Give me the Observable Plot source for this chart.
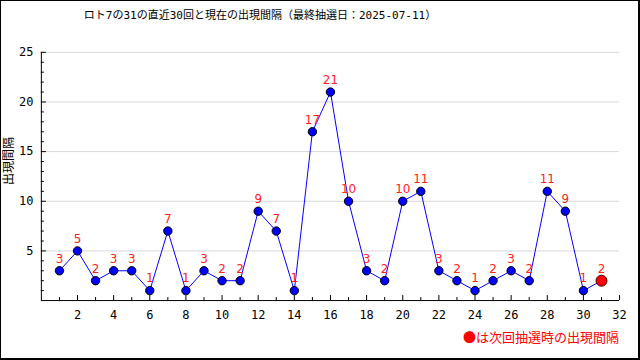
<!DOCTYPE html>
<html><head><meta charset="utf-8">
<script src="https://cdn.jsdelivr.net/npm/d3@7"></script>
<script src="https://cdn.jsdelivr.net/npm/@observablehq/plot@0.6"></script>
<style>
body{margin:0;background:#fff;}
#wrap{position:relative;width:640px;height:360px;box-sizing:border-box;border:1px solid #000;border-right-width:2px;border-bottom-width:2px;overflow:hidden;font-family:"DejaVu Sans","Noto Sans CJK JP",sans-serif;}
#chart{position:absolute;left:-1px;top:-1px;}
#title{position:absolute;top:5px;left:0;width:518px;text-align:center;font-size:11px;color:#000;white-space:nowrap;font-family:"DejaVu Sans Mono","Noto Sans CJK JP",monospace;}
#ylabel{position:absolute;left:-23px;top:153px;width:60px;transform:rotate(-90deg);font-size:12px;line-height:14px;text-align:center;white-space:nowrap;font-family:"Noto Sans CJK JP",sans-serif;}
#legend{position:absolute;right:19px;top:326px;font-size:13px;color:#ff0000;white-space:nowrap;font-family:"Noto Sans CJK JP",sans-serif;}
</style></head>
<body>
<div id="wrap">
<div id="title">ロト7の31の直近30回と現在の出現間隔（最終抽選日：2025-07-11）</div>
<div id="ylabel">出現間隔</div>
<div id="chart"></div>
<div id="legend">●は次回抽選時の出現間隔</div>
</div>
<script>
const draws = [1,2,3,4,5,6,7,8,9,10,11,12,13,14,15,16,17,18,19,20,21,22,23,24,25,26,27,28,29,30];
const intervals = [3,5,2,3,3,1,7,1,3,2,2,9,7,1,17,21,10,3,2,10,11,3,2,1,2,3,2,11,9,1];
const nextDraw = 31;
const nextInterval = 2;
const xMajorTicks = [2,4,6,8,10,12,14,16,18,20,22,24,26,28,30,32];
const xMinorTicks = [1,3,5,7,9,11,13,15,17,19,21,23,25,27,29,31];
const yMajorTicks = [5,10,15,20,25];
const yMinorTicks = [1,2,3,4,6,7,8,9,11,12,13,14,16,17,18,19,21,22,23,24];

const past = draws.map((d,i)=>({x:d, y:intervals[i]}));
const current = [{x:nextDraw, y:nextInterval}];
const all = past.concat(current);

const chart = Plot.plot({
  width: 640, height: 360,
  marginLeft: 41, marginRight: 19, marginTop: 52, marginBottom: 59,
  style: {fontFamily: "'DejaVu Sans Mono', monospace", fontSize: "12px", background: "transparent"},
  x: {domain: [0,32]},
  y: {domain: [0,25]},
  marks: [
    Plot.gridY(yMajorTicks, {stroke: "#d8d8d8", strokeOpacity: 1}),
    Plot.axisY({ticks: yMajorTicks, tickSize: 0, tickPadding: 8, label: null}),
    Plot.axisY({ticks: yMajorTicks, tickSize: -5, text: null, label: null, strokeOpacity: 1}),
    Plot.axisY({ticks: yMinorTicks, tickSize: -3, text: null, label: null, strokeOpacity: 1}),
    Plot.axisX({ticks: xMajorTicks, tickSize: 0, tickPadding: 10, label: null}),
    Plot.axisX({ticks: xMajorTicks, tickSize: -5, text: null, label: null, strokeOpacity: 1}),
    Plot.axisX({ticks: xMinorTicks, tickSize: -3, text: null, label: null, strokeOpacity: 1}),
    Plot.ruleY([0], {stroke: "#000"}),
    Plot.ruleX([0], {stroke: "#000"}),
    Plot.line(all, {x: "x", y: "y", stroke: "#0000ff", strokeWidth: 1}),
    Plot.dot(past, {x: "x", y: "y", r: 4.2, fill: "#0000ff", stroke: "#000", strokeWidth: 1}),
    Plot.dot(current, {x: "x", y: "y", r: 5.5, fill: "#ff0000", stroke: "#400000", strokeWidth: 1}),
    Plot.text(all, {x: "x", y: "y", text: d => String(d.y), dy: -12, fill: "#ff2020", fontSize: 12, fontFamily: "'DejaVu Sans', sans-serif"})
  ]
});
document.getElementById("chart").appendChild(chart);
</script>
</body></html>
